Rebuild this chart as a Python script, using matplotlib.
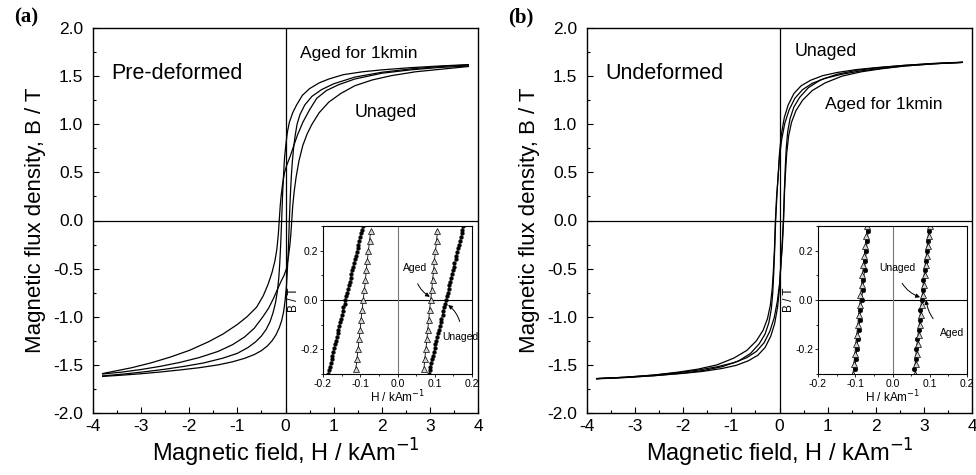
import numpy as np
import matplotlib
matplotlib.use("Agg")
import matplotlib.pyplot as plt
from matplotlib.ticker import MultipleLocator, FormatStrFormatter

plt.rcParams['font.family'] = ['Liberation Sans', 'DejaVu Sans']
plt.rcParams['axes.unicode_minus'] = False

# ---- main hysteresis loops (H in kA/m, B in T) ----
# "dn" = descending branch (H from +3.8 to -3.8), "up" = ascending branch
# (a) pre-deformed, aged for 1 kmin
a_aged_dn_H = [3.8, 3.2, 2.6, 2.0, 1.6, 1.2, 0.9, 0.7, 0.5, 0.35, 0.23, 0.15, 0.08, 0.04, 0.01,
               -0.02, -0.04, -0.06, -0.08, -0.10, -0.12, -0.14, -0.17, -0.21, -0.26, -0.32, -0.40,
               -0.50, -0.62, -0.78, -1.0, -1.3, -1.7, -2.1, -2.5, -2.9, -3.3, -3.8]
a_aged_dn_B = [1.620, 1.605, 1.588, 1.565, 1.545, 1.515, 1.470, 1.430, 1.370, 1.300, 1.200, 1.120,
               1.020, 0.920, 0.800, 0.650, 0.480, 0.280, 0.000, -0.25, -0.45, -0.60, -0.74, -0.86,
               -0.96, -1.05, -1.13, -1.20, -1.26, -1.32, -1.38, -1.43, -1.48, -1.515, -1.545,
               -1.570, -1.592, -1.615]
a_aged_up_H = [-3.8, -3.4, -3.0, -2.6, -2.2, -1.8, -1.4, -1.1, -0.85, -0.65, -0.5, -0.38, -0.28,
               -0.2, -0.13, -0.08, -0.04, -0.01, 0.02, 0.04, 0.06, 0.08, 0.10, 0.12, 0.14, 0.17,
               0.20, 0.24, 0.30, 0.40, 0.55, 0.75, 1.0, 1.44, 2.0, 2.6, 3.2, 3.8]
a_aged_up_B = [-1.620, -1.607, -1.592, -1.574, -1.553, -1.530, -1.500, -1.468, -1.432, -1.393,
               -1.352, -1.305, -1.250, -1.190, -1.115, -1.040, -0.950, -0.840, -0.680, -0.500,
               -0.300, 0.000, 0.25, 0.45, 0.60, 0.76, 0.88, 1.00, 1.10, 1.20, 1.29, 1.36, 1.42,
               1.49, 1.54, 1.575, 1.600, 1.615]
# (a) pre-deformed, unaged
a_unag_dn_H = [3.8, 3.2, 2.6, 2.0, 1.44, 1.1, 0.85, 0.65, 0.5, 0.36, 0.25, 0.18, 0.10, 0.03,
               -0.02, -0.06, -0.09, -0.11, -0.13, -0.15, -0.18, -0.22, -0.28, -0.36, -0.46, -0.60,
               -0.80, -1.0, -1.3, -1.6, -2.0, -2.4, -2.8, -3.2, -3.8]
a_unag_dn_B = [1.605, 1.590, 1.565, 1.530, 1.470, 1.410, 1.350, 1.270, 1.150, 1.020, 0.890, 0.790,
               0.670, 0.580, 0.500, 0.380, 0.260, 0.150, 0.000, -0.15, -0.30, -0.42, -0.54, -0.66,
               -0.78, -0.90, -1.00, -1.08, -1.18, -1.26, -1.35, -1.42, -1.48, -1.53, -1.59]
a_unag_up_H = [-3.8, -3.4, -3.0, -2.6, -2.2, -1.8, -1.4, -1.1, -0.85, -0.65, -0.47, -0.35, -0.25,
               -0.18, -0.10, -0.03, 0.02, 0.06, 0.09, 0.11, 0.13, 0.15, 0.18, 0.22, 0.28, 0.36,
               0.45, 0.55, 0.7, 0.9, 1.15, 1.44, 1.8, 2.2, 2.7, 3.2, 3.8]
a_unag_up_B = [-1.595, -1.575, -1.548, -1.515, -1.475, -1.425, -1.360, -1.290, -1.210, -1.120,
               -1.000, -0.910, -0.810, -0.730, -0.640, -0.570, -0.500, -0.380, -0.260, -0.150,
               0.000, 0.15, 0.30, 0.45, 0.62, 0.78, 0.90, 1.00, 1.12, 1.23, 1.32, 1.40, 1.46,
               1.505, 1.545, 1.570, 1.600]

# (b) undeformed, unaged
b_unag_dn_H = [3.8, 3.2, 2.6, 2.0, 1.6, 1.2, 0.9, 0.65, 0.45, 0.3, 0.18, 0.1, 0.04, 0.0, -0.03,
               -0.055, -0.08, -0.10, -0.12, -0.14, -0.17, -0.22, -0.3, -0.42, -0.6, -0.85, -1.2,
               -1.6, -2.0, -2.6, -3.2, -3.8]
b_unag_dn_B = [1.645, 1.632, 1.612, 1.588, 1.568, 1.538, 1.505, 1.458, 1.400, 1.320, 1.200, 1.070,
               0.900, 0.700, 0.450, 0.250, 0.000, -0.30, -0.55, -0.75, -0.92, -1.06, -1.18, -1.28,
               -1.38, -1.46, -1.52, -1.56, -1.585, -1.612, -1.630, -1.642]
b_unag_up_H = [-3.8, -3.2, -2.6, -2.0, -1.6, -1.2, -0.9, -0.65, -0.45, -0.3, -0.18, -0.1, -0.04,
               0.0, 0.03, 0.055, 0.08, 0.10, 0.12, 0.14, 0.17, 0.22, 0.3, 0.42, 0.6, 0.85, 1.2,
               1.6, 2.0, 2.6, 3.2, 3.8]
b_unag_up_B = [-1.645, -1.632, -1.612, -1.588, -1.568, -1.538, -1.505, -1.458, -1.400, -1.320,
               -1.200, -1.070, -0.900, -0.700, -0.450, -0.250, 0.000, 0.30, 0.55, 0.75, 0.92,
               1.06, 1.18, 1.28, 1.38, 1.46, 1.52, 1.56, 1.585, 1.612, 1.630, 1.642]
# (b) undeformed, aged for 1 kmin
b_aged_dn_H = [3.8, 3.2, 2.6, 2.1, 1.7, 1.3, 0.95, 0.68, 0.48, 0.32, 0.2, 0.11, 0.045, 0.0, -0.03,
               -0.06, -0.085, -0.105, -0.125, -0.15, -0.19, -0.25, -0.34, -0.48, -0.68, -0.95,
               -1.3, -1.7, -2.1, -2.6, -3.2, -3.8]
b_aged_dn_B = [1.643, 1.628, 1.606, 1.580, 1.555, 1.520, 1.478, 1.425, 1.360, 1.270, 1.150, 1.010,
               0.840, 0.660, 0.450, 0.250, 0.000, -0.30, -0.50, -0.70, -0.88, -1.02, -1.14, -1.25,
               -1.35, -1.43, -1.50, -1.545, -1.575, -1.605, -1.628, -1.643]
b_aged_up_H = [-3.8, -3.2, -2.6, -2.1, -1.7, -1.3, -0.95, -0.68, -0.48, -0.32, -0.2, -0.11, -0.045,
               0.0, 0.03, 0.06, 0.085, 0.105, 0.125, 0.15, 0.19, 0.25, 0.34, 0.48, 0.68, 0.95,
               1.3, 1.7, 2.1, 2.6, 3.2, 3.8]
b_aged_up_B = [-1.643, -1.628, -1.606, -1.580, -1.555, -1.520, -1.478, -1.425, -1.360, -1.270,
               -1.150, -1.010, -0.840, -0.660, -0.450, -0.250, 0.000, 0.30, 0.50, 0.70, 0.88,
               1.02, 1.14, 1.25, 1.35, 1.43, 1.50, 1.545, 1.575, 1.605, 1.628, 1.643]

# ---- inset data near the coercive field ----
ia_circ_B = [-0.300, -0.285, -0.270, -0.255, -0.240, -0.225, -0.210, -0.195, -0.180, -0.165,
             -0.150, -0.135, -0.120, -0.105, -0.090, -0.075, -0.060, -0.045, -0.030, -0.015,
             0.000, 0.015, 0.030, 0.045, 0.060, 0.075, 0.090, 0.105, 0.120, 0.135, 0.150,
             0.165, 0.180, 0.195, 0.210, 0.225, 0.240, 0.255, 0.270, 0.285, 0.300]
ia_circ_Hr = [0.084, 0.086, 0.088, 0.091, 0.093, 0.095, 0.098, 0.100, 0.102, 0.104, 0.107,
              0.109, 0.111, 0.114, 0.116, 0.118, 0.121, 0.123, 0.125, 0.128, 0.130, 0.132,
              0.135, 0.137, 0.139, 0.142, 0.144, 0.146, 0.149, 0.151, 0.153, 0.156, 0.158,
              0.160, 0.163, 0.165, 0.167, 0.170, 0.172, 0.174, 0.177]
ia_circ_Hl = [-0.186, -0.184, -0.182, -0.179, -0.177, -0.175, -0.172, -0.170, -0.168, -0.166,
              -0.163, -0.161, -0.159, -0.156, -0.154, -0.152, -0.149, -0.147, -0.145, -0.142,
              -0.140, -0.138, -0.135, -0.133, -0.131, -0.128, -0.126, -0.124, -0.121, -0.119,
              -0.117, -0.114, -0.112, -0.110, -0.107, -0.105, -0.103, -0.100, -0.098, -0.096, -0.093]
ia_tri_B = [-0.28, -0.24, -0.20, -0.16, -0.12, -0.08, -0.04, 0.0, 0.04, 0.08, 0.12, 0.16, 0.20, 0.24, 0.28]
ia_tri_Hr = [0.071, 0.073, 0.076, 0.079, 0.081, 0.084, 0.086, 0.089, 0.092, 0.094, 0.097, 0.099, 0.102, 0.105, 0.107]
ia_tri_Hl = [-0.112, -0.109, -0.106, -0.103, -0.100, -0.098, -0.095, -0.092, -0.089, -0.086, -0.084, -0.081, -0.078, -0.075, -0.072]

ib_circ_B = [-0.28, -0.24, -0.20, -0.16, -0.12, -0.08, -0.04, 0.0, 0.04, 0.08, 0.12, 0.16, 0.20, 0.24, 0.28]
ib_circ_Hr = [0.059, 0.062, 0.064, 0.067, 0.070, 0.073, 0.075, 0.078, 0.081, 0.083, 0.086, 0.089, 0.092, 0.094, 0.097]
ib_circ_Hl = [-0.101, -0.098, -0.096, -0.093, -0.091, -0.088, -0.086, -0.083, -0.080, -0.078, -0.075, -0.073, -0.070, -0.068, -0.065]
ib_tri_B = [-0.30, -0.26, -0.22, -0.18, -0.14, -0.10, -0.06, -0.02, 0.02, 0.06, 0.10, 0.14, 0.18, 0.22, 0.26, 0.30]
ib_tri_Hr = [0.061, 0.063, 0.066, 0.069, 0.072, 0.074, 0.077, 0.080, 0.082, 0.085, 0.088, 0.091, 0.093, 0.096, 0.099, 0.101]
ib_tri_Hl = [-0.106, -0.104, -0.101, -0.099, -0.096, -0.093, -0.091, -0.088, -0.086, -0.083, -0.081, -0.078, -0.076, -0.073, -0.070, -0.068]

W, Hpx = 976, 475
fig = plt.figure(figsize=(W / 100, Hpx / 100), dpi=100)


def main_axes(left, label_txt, panel_txt):
    ax = fig.add_axes([left / W, 62 / Hpx, 385 / W, 385 / Hpx])
    ax.set_xlim(-4, 4)
    ax.set_ylim(-2, 2)
    ax.xaxis.set_major_locator(MultipleLocator(1))
    ax.xaxis.set_minor_locator(MultipleLocator(0.5))
    ax.yaxis.set_major_locator(MultipleLocator(0.5))
    ax.yaxis.set_minor_locator(MultipleLocator(0.25))
    ax.yaxis.set_major_formatter(FormatStrFormatter('%.1f'))
    ax.tick_params(which='both', direction='in', labelsize=12.5, top=False, right=False)
    ax.tick_params(which='major', length=4, width=0.8)
    ax.tick_params(which='minor', length=2.5, width=0.8)
    ax.tick_params(axis='y', pad=7)
    ax.tick_params(axis='x', pad=4)
    for s in ax.spines.values():
        s.set_linewidth(1.0)
    ax.axhline(0, color='black', lw=0.9)
    ax.axvline(0, color='black', lw=0.9)
    ax.set_xlabel('Magnetic field, H / kAm$^{-1}$', fontsize=17, labelpad=2)
    ax.set_ylabel('Magnetic flux density, B / T', fontsize=16, labelpad=5)
    ax.text(-3.62, 1.53, label_txt, fontsize=15.5, va='center')
    fig.text((left - 79) / W, 1 - 17 / Hpx, panel_txt, fontsize=15, fontweight='bold',
             family='Liberation Serif', va='center')
    return ax


def inset_axes(left):
    ia = fig.add_axes([left / W, 101 / Hpx, 149 / W, 148 / Hpx])
    ia.set_xlim(-0.2, 0.2)
    ia.set_ylim(-0.3, 0.3)
    ia.xaxis.set_major_locator(MultipleLocator(0.1))
    ia.xaxis.set_minor_locator(MultipleLocator(0.05))
    ia.yaxis.set_major_locator(MultipleLocator(0.2))
    ia.yaxis.set_minor_locator(MultipleLocator(0.1))
    ia.xaxis.set_major_formatter(FormatStrFormatter('%.1f'))
    ia.yaxis.set_major_formatter(FormatStrFormatter('%.1f'))
    ia.tick_params(which='both', direction='out', labelsize=7.5, pad=1.5, width=0.6)
    ia.tick_params(which='major', length=2)
    ia.tick_params(which='minor', length=1.2)
    for s in ia.spines.values():
        s.set_linewidth(0.8)
    ia.axhline(0, color='black', lw=0.8)
    ia.axvline(0, color='#777777', lw=0.8)
    ia.set_xlabel('H / kAm$^{-1}$', fontsize=8.5, labelpad=0)
    ia.set_ylabel('B / T', fontsize=8.5, labelpad=0)
    return ia


line = dict(color='black', lw=0.9)
circ = dict(color='black', lw=0.4, marker='o', ms=2.7, mfc='black', mec='black', mew=0.3)
circ_b = dict(color='black', lw=0.6, marker='o', ms=3.4, mfc='black', mec='black', mew=0.3)
tri = dict(color='black', lw=0.6, marker='^', ms=4.2, mfc='#d4d4d4', mec='black', mew=0.5)
arrow = dict(arrowstyle='-|>', color='black', lw=0.7, mutation_scale=6, shrinkA=6, shrinkB=0)

# ---- (a) pre-deformed ----
ax_a = main_axes(93, 'Pre-deformed', '(a)')
ax_a.plot(a_aged_dn_H, a_aged_dn_B, **line)
ax_a.plot(a_aged_up_H, a_aged_up_B, **line)
ax_a.plot(a_unag_dn_H, a_unag_dn_B, **line)
ax_a.plot(a_unag_up_H, a_unag_up_B, **line)
ax_a.text(0.30, 1.73, 'Aged for 1kmin', fontsize=12.6, va='center')
ax_a.text(1.44, 1.12, 'Unaged', fontsize=12.8, va='center')

ia = inset_axes(323)
ia.plot(ia_circ_Hr, ia_circ_B, **circ)
ia.plot(ia_circ_Hl, ia_circ_B, **circ)
ia.plot(ia_tri_Hr, ia_tri_B, **tri)
ia.plot(ia_tri_Hl, ia_tri_B, **tri)
ia.annotate('Aged', xy=(0.087, 0.013), xytext=(0.047, 0.13), fontsize=7.5, ha='center', va='center',
            arrowprops=dict(arrow, connectionstyle='arc3,rad=0.3'))
ia.annotate('Unaged', xy=(0.136, -0.02), xytext=(0.168, -0.152), fontsize=7.5, ha='center', va='center',
            arrowprops=dict(arrow, connectionstyle='arc3,rad=0.3'))

# ---- (b) undeformed ----
ax_b = main_axes(587, 'Undeformed', '(b)')
ax_b.plot(b_unag_dn_H, b_unag_dn_B, **line)
ax_b.plot(b_unag_up_H, b_unag_up_B, **line)
ax_b.plot(b_aged_dn_H, b_aged_dn_B, **line)
ax_b.plot(b_aged_up_H, b_aged_up_B, **line)
ax_b.text(0.32, 1.76, 'Unaged', fontsize=12.8, va='center')
ax_b.text(0.95, 1.21, 'Aged for 1kmin', fontsize=12.6, va='center')

ib = inset_axes(818)
ib.plot(ib_circ_Hr, ib_circ_B, **circ_b)
ib.plot(ib_circ_Hl, ib_circ_B, **circ_b)
ib.plot(ib_tri_Hr, ib_tri_B, **tri)
ib.plot(ib_tri_Hl, ib_tri_B, **tri)
ib.annotate('Unaged', xy=(0.074, 0.011), xytext=(0.012, 0.13), fontsize=7.5, ha='center', va='center',
            arrowprops=dict(arrow, connectionstyle='arc3,rad=0.3'))
ib.annotate('Aged', xy=(0.09, 0.0), xytext=(0.161, -0.132), fontsize=7.5, ha='center', va='center',
            arrowprops=dict(arrow, connectionstyle='arc3,rad=-0.3'))

fig.savefig('out.png', dpi=100)
